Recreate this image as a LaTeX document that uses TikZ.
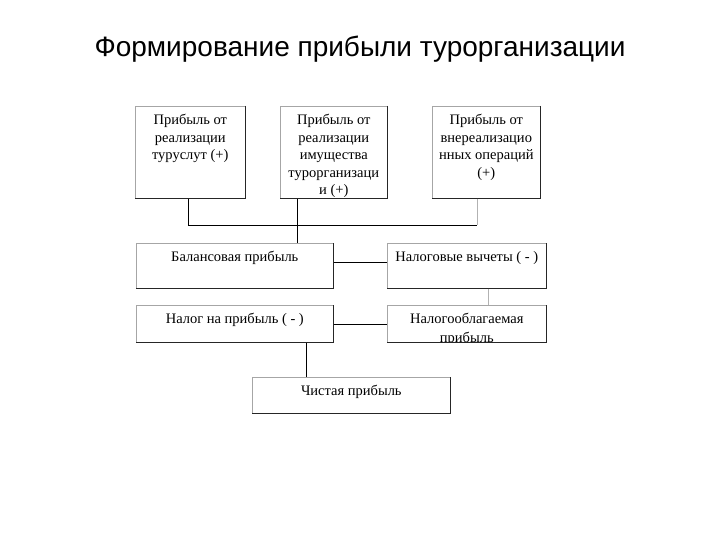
\documentclass[tikz,border=0pt]{standalone}
\usepackage{fontspec}
\setmainfont{Liberation Serif}
\newfontfamily\titlefont{Liberation Sans}
\begin{document}
\begin{tikzpicture}[x=1pt,y=-1pt,
  box/.style={draw=gray!70, line width=0.6pt, fill=white, anchor=north west, inner sep=0pt},
  edge/.style={line width=1.1pt, black!85},
  txt/.style={anchor=north, align=center, inner sep=0pt, font=\fontsize{14.5}{17.5}\selectfont},
  conn/.style={line width=0.9pt, black},
  connlight/.style={line width=0.9pt, gray!60}]
\useasboundingbox[fill=white] (0,0) rectangle (720,540);
\node[anchor=center, inner sep=0pt, font=\titlefont\fontsize{28}{32}\selectfont] (title) at (360,49) {Формирование прибыли турорганизации};
% boxes
\node[box, minimum width=110pt, minimum height=92pt] (b1) at (135,106) {};
\node[box, minimum width=107pt, minimum height=92pt] (b2) at (280,106) {};
\node[box, minimum width=108pt, minimum height=92pt] (b3) at (432,106) {};
\node[box, minimum width=197pt, minimum height=45pt] (bal) at (136,243) {};
\node[box, minimum width=159pt, minimum height=45pt] (ded) at (387,243) {};
\node[box, minimum width=197pt, minimum height=37pt] (tax) at (136,305) {};
\node[box, minimum width=159pt, minimum height=37pt] (tbl) at (387,305) {};
\node[box, minimum width=198pt, minimum height=36pt] (net) at (252,377) {};
% shadow edges
\foreach \b in {b1,b2,b3,bal,ded,tax,tbl,net}
  \draw[edge] (\b.north east) -- (\b.south east) -- (\b.south west);
% texts
\node[txt] (t1) at ([yshift=-8pt]b1.north) {Прибыль от\\реализации\\туруслут (+)};
\node[txt] (t2) at ([yshift=-8pt]b2.north) {Прибыль от\\реализации\\имущества\\турорганизаци\\и (+)};
\node[txt] (t3) at ([yshift=-8pt]b3.north) {Прибыль от\\внереализацио\\нных операций\\(+)};
\node[txt] (tbal) at ([yshift=-8pt]bal.north) {Балансовая прибыль};
\node[txt] (tded) at ([yshift=-8pt]ded.north) {Налоговые вычеты ( - )};
\node[txt] (ttax) at ([yshift=-8pt]tax.north) {Налог на прибыль ( - )};
\begin{scope}
\clip (tbl.north west) rectangle (tbl.south east);
\node[txt, font=\fontsize{14.5}{19}\selectfont] (ttbl) at ([yshift=-8pt]tbl.north) {Налогооблагаемая\\прибыль};
\end{scope}
\draw[edge] (tbl.north east) -- (tbl.south east) -- (tbl.south west);
\node[txt] (tnet) at ([yshift=-8pt]net.north) {Чистая прибыль};
% connectors
\coordinate (j1) at (188,225);
\coordinate (j3) at (477,225);
\draw[conn] (b1.south -| j1) -- (j1) -- (j3);
\draw[connlight] (b3.south -| j3) -- (j3);
\draw[conn] (b2.south -| 297,0) -- (bal.north -| 297,0);
\draw[conn] (bal.east |- 0,262) -- (ded.west |- 0,262);
\draw[connlight] (ded.south -| 488,0) -- (tbl.north -| 488,0);
\draw[conn] (tax.east |- 0,324) -- (tbl.west |- 0,324);
\draw[conn] (tax.south -| 306,0) -- (net.north -| 306,0);
\end{tikzpicture}
\end{document}
